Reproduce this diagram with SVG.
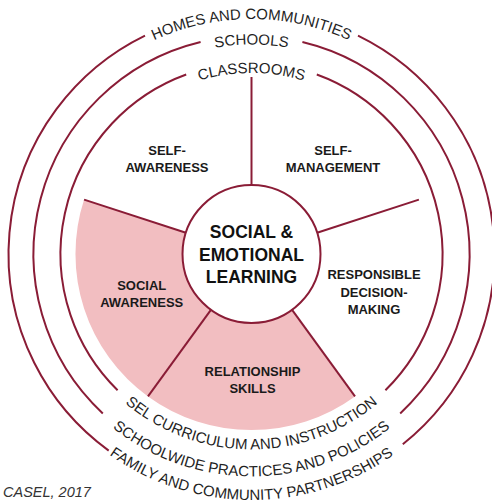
<svg xmlns="http://www.w3.org/2000/svg" width="492" height="502" viewBox="0 0 492 502">
  <defs>
    <style>
      .ring { fill: none; stroke: #8A1C36; stroke-width: 2; }
      .spoke { stroke: #8A1C36; stroke-width: 2; fill: none; }
      .pink { fill: #F2BEC1; stroke: none; }
      .arc-text { font-family: "Liberation Sans", Arial, sans-serif; font-size: 15px; fill: #1f1f1f; }
      .label { font-family: "Liberation Sans", Arial, sans-serif; font-size: 13px; font-weight: bold; fill: #1a1a1a; text-anchor: middle; }
      .center-label { font-family: "Liberation Sans", Arial, sans-serif; font-size: 17.5px; font-weight: bold; fill: #111; text-anchor: middle; }
      .credit { font-family: "Liberation Sans", Arial, sans-serif; font-size: 14.5px; font-style: italic; fill: #333; }
    </style>
    <path id="tp-homes" d="M16.5,254 A235,235 0 0 1 486.5,254"/>
    <path id="tp-schools" d="M42,254 A209.5,209.5 0 0 1 461,254"/>
    <path id="tp-classrooms" d="M70.5,254 A181,181 0 0 1 432.5,254"/>
    <path id="tp-sel" d="M56,254 A195.5,195.5 0 0 0 447,254"/>
    <path id="tp-schoolwide" d="M29,254 A222.5,222.5 0 0 0 474,254"/>
    <path id="tp-family" d="M5.5,254 A246,246 0 0 0 497.5,254"/>
  </defs>

  <!-- Outer ring: Homes and Communities -->
  <g id="ring-homes">
    <path class="ring" d="M108.7,450.6 A243,243 0 0 1 145.0,35.6"/>
    <path class="ring" d="M358.0,35.6 A243,243 0 0 1 402.8,444.2"/>
    <text class="arc-text"><textPath href="#tp-homes" startOffset="50%" text-anchor="middle">HOMES AND COMMUNITIES</textPath></text>
    <text class="arc-text"><textPath href="#tp-family" startOffset="50%" text-anchor="middle">FAMILY AND COMMUNITY PARTNERSHIPS</textPath></text>
  </g>

  <!-- Middle ring: Schools -->
  <g id="ring-schools">
    <path class="ring" d="M102.8,413.4 A218,218 0 0 1 200.6,42.0"/>
    <path class="ring" d="M302.4,42.0 A218,218 0 0 1 400.2,413.4"/>
    <text class="arc-text"><textPath href="#tp-schools" startOffset="50%" text-anchor="middle">SCHOOLS</textPath></text>
    <text class="arc-text"><textPath href="#tp-schoolwide" startOffset="50%" text-anchor="middle">SCHOOLWIDE PRACTICES AND POLICIES</textPath></text>
  </g>

  <!-- Inner ring: Classrooms -->
  <g id="ring-classrooms">
    <path class="ring" d="M117.6,390.2 A191,191 0 0 1 186.2,74.5"/>
    <path class="ring" d="M316.8,74.5 A191,191 0 0 1 385.4,390.2"/>
    <text class="arc-text"><textPath href="#tp-classrooms" startOffset="50%" text-anchor="middle">CLASSROOMS</textPath></text>
    <text class="arc-text"><textPath href="#tp-sel" startOffset="50%" text-anchor="middle">SEL CURRICULUM AND INSTRUCTION</textPath></text>
  </g>

  <!-- Competency sectors -->
  <g id="sector-social-awareness">
    <path class="pink" d="M148.0,396.4 A176,176 0 0 1 84.1,199.6 L185.9,232.7 A69,69 0 0 0 210.9,309.8 Z"/>
    <text class="label" x="141.7" y="290">SOCIAL</text>
    <text class="label" x="141.7" y="307">AWARENESS</text>
  </g>
  <g id="sector-relationship-skills">
    <path class="pink" d="M355.0,396.4 A176,176 0 0 1 148.0,396.4 L210.9,309.8 A69,69 0 0 0 292.1,309.8 Z"/>
    <text class="label" x="252.5" y="376">RELATIONSHIP</text>
    <text class="label" x="252.5" y="393">SKILLS</text>
  </g>
  <g id="sector-self-awareness">
    <text class="label" x="167" y="154.5">SELF-</text>
    <text class="label" x="167" y="172">AWARENESS</text>
  </g>
  <g id="sector-self-management">
    <text class="label" x="333" y="154.5">SELF-</text>
    <text class="label" x="333" y="172">MANAGEMENT</text>
  </g>
  <g id="sector-responsible-decision-making">
    <text class="label" x="374" y="279">RESPONSIBLE</text>
    <text class="label" x="374" y="296.5">DECISION-</text>
    <text class="label" x="374" y="314">MAKING</text>
  </g>

  <!-- Spokes -->
  <g id="connectors">
    <line class="spoke" x1="251.5" y1="185" x2="251.5" y2="77"/>
    <line class="spoke" x1="317.1" y1="232.7" x2="418.9" y2="199.6"/>
    <line class="spoke" x1="292.1" y1="309.8" x2="355.0" y2="396.4"/>
    <line class="spoke" x1="210.9" y1="309.8" x2="148.0" y2="396.4"/>
    <line class="spoke" x1="185.9" y1="232.7" x2="84.1" y2="199.6"/>
  </g>

  <!-- Center -->
  <g id="center-sel">
    <circle cx="251.5" cy="254" r="69" fill="#fff" stroke="#8A1C36" stroke-width="2"/>
    <text class="center-label" x="251.5" y="238">SOCIAL &amp;</text>
    <text class="center-label" x="251.5" y="260.5">EMOTIONAL</text>
    <text class="center-label" x="251.5" y="283">LEARNING</text>
  </g>

  <text class="credit" x="3" y="497">CASEL, 2017</text>
</svg>
